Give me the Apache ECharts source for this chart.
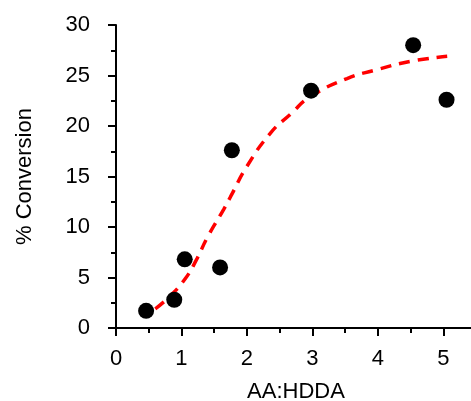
<!DOCTYPE html>
<html>
<head>
<meta charset="utf-8">
<script src="https://cdn.jsdelivr.net/npm/echarts@6/dist/echarts.min.js"></script>
<style>
  html, body { margin: 0; padding: 0; background: #fff; }
  #chart { width: 471px; height: 401px; }
</style>
</head>
<body>
<div id="chart"></div>
<script>
// Measured conversion vs. AA:HDDA ratio
const ratioMeasured = [0.46, 0.89, 1.05, 1.59, 1.77, 2.98, 4.54, 5.05];
const conversionMeasured = [1.7, 2.8, 6.8, 6.0, 17.6, 23.5, 28.0, 22.6];

// Sigmoidal fit curve, sampled points
const ratioFit = [0.60, 0.80, 1.06, 1.24, 1.39, 1.65, 1.75, 2.00, 2.36, 2.67, 2.97, 3.53, 3.94, 4.50, 5.06];
const conversionFit = [1.9, 3.0, 4.9, 6.9, 8.9, 11.8, 13.0, 16.0, 19.3, 21.2, 22.9, 24.7, 25.5, 26.4, 26.9];

const xTicks = [0, 1, 2, 3, 4, 5];
const yTicks = [0, 5, 10, 15, 20, 25, 30];

const FONT = 'Liberation Sans, Arial, sans-serif';
const chart = echarts.init(document.getElementById('chart'), null, { renderer: 'canvas' });

const axisText = { color: '#000', fontFamily: FONT, fontSize: 22 };

chart.setOption({
  animation: false,
  backgroundColor: '#fff',
  grid: { left: 116, top: 25, right: -5, bottom: 73, show: false, containLabel: false, outerBoundsMode: 'none' },
  xAxis: [{
    type: 'value',
    min: 0, max: 5.5, interval: 1,
    name: 'AA:HDDA', nameLocation: 'middle', nameGap: 53,
    nameTextStyle: axisText,
    axisLine: { show: true, onZero: false, lineStyle: { color: '#000', width: 2 } },
    axisTick: { show: true, inside: false, length: 8, lineStyle: { color: '#000', width: 2 } },
    minorTick: { show: true, splitNumber: 2, length: 5, lineStyle: { color: '#000', width: 2 } },
    axisLabel: Object.assign({ margin: 20, formatter: v => xTicks.includes(v) ? String(v) : '' }, axisText),
    splitLine: { show: false }
  }, {
    type: 'value', position: 'top',
    min: 0, max: 5.5,
    axisLine: { show: true, lineStyle: { color: '#000', width: 2 } },
    axisTick: { show: false }, axisLabel: { show: false }, splitLine: { show: false }
  }],
  yAxis: {
    type: 'value',
    min: 0, max: 30, interval: 5,
    name: '% Conversion', nameLocation: 'middle', nameGap: 80,
    nameTextStyle: axisText,
    axisLine: { show: true, onZero: false, lineStyle: { color: '#000', width: 2 } },
    axisTick: { show: true, inside: false, length: 8, lineStyle: { color: '#000', width: 2 } },
    minorTick: { show: true, splitNumber: 2, length: 5, lineStyle: { color: '#000', width: 2 } },
    axisLabel: Object.assign({ margin: 26, formatter: v => yTicks.includes(v) ? String(v) : '' }, axisText),
    splitLine: { show: false }
  },
  series: [{
    type: 'line',
    data: ratioFit.map((x, i) => [x, conversionFit[i]]),
    smooth: true,
    symbol: 'none',
    lineStyle: { color: '#ff0000', width: 3.5, type: [11, 8] },
    z: 2
  }, {
    type: 'scatter',
    data: ratioMeasured.map((x, i) => [x, conversionMeasured[i]]),
    symbol: 'circle',
    symbolSize: 16,
    itemStyle: { color: '#000', opacity: 1 },
    z: 3
  }]
});
</script>
</body>
</html>
